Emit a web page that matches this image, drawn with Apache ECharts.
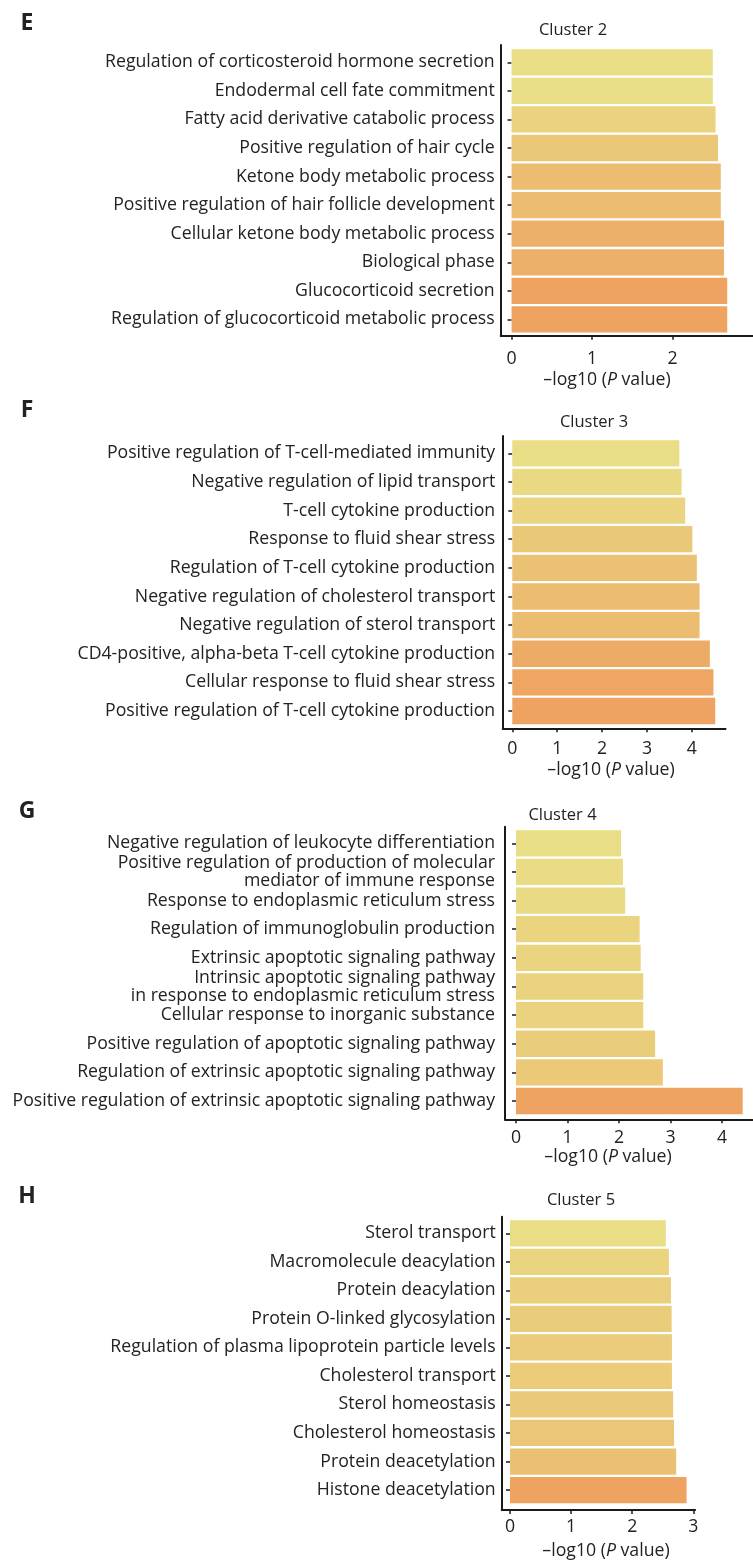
<!DOCTYPE html>
<html>
<head>
<meta charset="utf-8">
<script src="https://cdn.jsdelivr.net/npm/echarts@6/dist/echarts.min.js"></script>
<style>
  html, body { margin: 0; padding: 0; background: #ffffff; }
  #chart { width: 753px; height: 1562px; }
</style>
</head>
<body>
<div id="chart"></div>
<script>
// GO enrichment terms per cluster, listed top to bottom, with -log10(P) values
const cluster2Terms = [
  'Regulation of corticosteroid hormone secretion',
  'Endodermal cell fate commitment',
  'Fatty acid derivative catabolic process',
  'Positive regulation of hair cycle',
  'Ketone body metabolic process',
  'Positive regulation of hair follicle development',
  'Cellular ketone body metabolic process',
  'Biological phase',
  'Glucocorticoid secretion',
  'Regulation of glucocorticoid metabolic process'
];
const cluster2Values = [2.50, 2.50, 2.535, 2.565, 2.60, 2.60, 2.64, 2.64, 2.68, 2.68];
const cluster2Ticks = [0, 1, 2];

const cluster3Terms = [
  'Positive regulation of T-cell-mediated immunity',
  'Negative regulation of lipid transport',
  'T-cell cytokine production',
  'Response to fluid shear stress',
  'Regulation of T-cell cytokine production',
  'Negative regulation of cholesterol transport',
  'Negative regulation of sterol transport',
  'CD4-positive, alpha-beta T-cell cytokine production',
  'Cellular response to fluid shear stress',
  'Positive regulation of T-cell cytokine production'
];
const cluster3Values = [3.72, 3.77, 3.85, 4.01, 4.11, 4.17, 4.17, 4.40, 4.48, 4.52];
const cluster3Ticks = [0, 1, 2, 3, 4];

const cluster4Terms = [
  'Negative regulation of leukocyte differentiation',
  'Positive regulation of production of molecular\nmediator of immune response',
  'Response to endoplasmic reticulum stress',
  'Regulation of immunoglobulin production',
  'Extrinsic apoptotic signaling pathway',
  'Intrinsic apoptotic signaling pathway\nin response to endoplasmic reticulum stress',
  'Cellular response to inorganic substance',
  'Positive regulation of apoptotic signaling pathway',
  'Regulation of extrinsic apoptotic signaling pathway',
  'Positive regulation of extrinsic apoptotic signaling pathway'
];
const cluster4Values = [2.04, 2.075, 2.12, 2.40, 2.42, 2.47, 2.47, 2.70, 2.85, 4.40];
const cluster4Ticks = [0, 1, 2, 3, 4];

const cluster5Terms = [
  'Sterol transport',
  'Macromolecule deacylation',
  'Protein deacylation',
  'Protein O-linked glycosylation',
  'Regulation of plasma lipoprotein particle levels',
  'Cholesterol transport',
  'Sterol homeostasis',
  'Cholesterol homeostasis',
  'Protein deacetylation',
  'Histone deacetylation'
];
const cluster5Values = [2.55, 2.60, 2.635, 2.645, 2.65, 2.65, 2.67, 2.685, 2.72, 2.89];
const cluster5Ticks = [0, 1, 2, 3];

// Panel geometry (pixels) and value-axis scale
const panels = [
  { letter: 'E', title: 'Cluster 2', terms: cluster2Terms, values: cluster2Values, ticks: cluster2Ticks,
    axisX: 500.7, axisTop: 45, axisBottom: 335.7, zeroX: 512.3, unit: 86, max: 3.0,
    barsTop: 48, barsHeight: 285.7, tickMargin: 14, labelMargin: 6, titleX: 607, titleY: 380,
    clusterX: 573, clusterY: 30, letterY: 23 },
  { letter: 'F', title: 'Cluster 3', terms: cluster3Terms, values: cluster3Values, ticks: cluster3Ticks,
    axisX: 502.7, axisTop: 436, axisBottom: 728.3, zeroX: 512.3, unit: 44.9, max: 4.75,
    barsTop: 439, barsHeight: 286.3, tickMargin: 12, labelMargin: 7.5, titleX: 611, titleY: 770,
    clusterX: 594, clusterY: 422, letterY: 410 },
  { letter: 'G', title: 'Cluster 4', terms: cluster4Terms, values: cluster4Values, ticks: cluster4Ticks,
    axisX: 505, axisTop: 826.7, axisBottom: 1119.3, zeroX: 516.7, unit: 54.75, max: 4.6,
    barsTop: 829, barsHeight: 286.3, tickMargin: 10, labelMargin: 10, titleX: 608, titleY: 1156.7,
    clusterX: 562.5, clusterY: 815, letterY: 811 },
  { letter: 'H', title: 'Cluster 5', terms: cluster5Terms, values: cluster5Values, ticks: cluster5Ticks,
    axisX: 501.7, axisTop: 1216.7, axisBottom: 1510, zeroX: 510, unit: 61.1, max: 3.03,
    barsTop: 1219, barsHeight: 285.3, tickMargin: 8, labelMargin: 6, titleX: 606, titleY: 1550.7,
    clusterX: 581, clusterY: 1200, letterY: 1196 }
];

const FONT = "'Open Sans', 'Noto Sans', sans-serif";
const INK = '#222222';
const AXIS_INK = '#1a1a1a';
const LABEL_SIZE = 17.7;
const LOW_COLOR = [233, 221, 133];   // yellow for the weakest term
const HIGH_COLOR = [238, 163, 96];   // orange for the strongest term

function fillFor(v, lo, hi) {
  const t = hi > lo ? (v - lo) / (hi - lo) : 0;
  const c = LOW_COLOR.map((a, k) => Math.round(a + (HIGH_COLOR[k] - a) * t));
  return 'rgb(' + c.join(',') + ')';
}

const grid = [], xAxis = [], yAxis = [], series = [], graphic = [];

panels.forEach((p, i) => {
  const min = -(p.zeroX - p.axisX) / p.unit;
  const width = (p.max - min) * p.unit;
  const lo = Math.min(...p.values), hi = Math.max(...p.values);

  // frame grid: carries the axis lines, x ticks and x tick labels
  grid.push({ left: p.axisX, top: p.axisTop, width: width, height: p.axisBottom - p.axisTop, containLabel: false });
  // bar grid: carries the category axis and the bars
  grid.push({ left: p.axisX, top: p.barsTop, width: width, height: p.barsHeight, containLabel: false });

  const g0 = 2 * i, g1 = 2 * i + 1;

  xAxis.push({
    type: 'value', gridIndex: g0, min: min, max: p.max,
    axisLine: { show: true, onZero: false, lineStyle: { color: AXIS_INK, width: 2 } },
    axisTick: { show: true, customValues: p.ticks, length: 4, lineStyle: { color: AXIS_INK, width: 1.5 } },
    axisLabel: { show: true, customValues: p.ticks, margin: p.tickMargin, fontSize: LABEL_SIZE, color: INK, fontFamily: FONT },
    splitLine: { show: false }
  });
  yAxis.push({
    type: 'value', gridIndex: g0, min: 0, max: 1,
    axisLine: { show: true, onZero: false, lineStyle: { color: AXIS_INK, width: 2 } },
    axisTick: { show: false }, axisLabel: { show: false }, splitLine: { show: false }
  });

  xAxis.push({ type: 'value', gridIndex: g1, min: min, max: p.max, show: false });
  yAxis.push({
    type: 'category', gridIndex: g1, data: p.terms, inverse: true,
    axisLine: { show: false },
    axisTick: { show: true, alignWithLabel: true, length: 4, lineStyle: { color: AXIS_INK, width: 1.5 } },
    axisLabel: { margin: p.labelMargin, fontSize: LABEL_SIZE, lineHeight: 18, color: INK, fontFamily: FONT, interval: 0 },
    splitLine: { show: false }
  });

  series.push({
    type: 'bar', xAxisIndex: g1, yAxisIndex: g1,
    barCategoryGap: '8%',
    data: p.values.map(v => ({ value: v, itemStyle: { color: fillFor(v, lo, hi) } })),
    silent: true
  });

  graphic.push({
    type: 'text', x: 27, y: p.letterY,
    style: { text: p.letter, textAlign: 'center', textVerticalAlign: 'middle',
             font: 'bold 23px ' + FONT, fill: INK }
  });
  graphic.push({
    type: 'text', x: p.clusterX, y: p.clusterY,
    style: { text: p.title, textAlign: 'center', textVerticalAlign: 'middle',
             font: '16.5px ' + FONT, fill: INK }
  });
  graphic.push({
    type: 'text', x: p.titleX, y: p.titleY,
    style: {
      text: '{n|–log10 (}{i|P}{n| value)}',
      textAlign: 'center', textVerticalAlign: 'middle',
      rich: {
        n: { fontSize: LABEL_SIZE, fontFamily: FONT, fill: INK, color: INK },
        i: { fontSize: LABEL_SIZE, fontFamily: FONT, fontStyle: 'italic', fill: INK, color: INK }
      }
    }
  });
});

const chart = echarts.init(document.getElementById('chart'), null, { renderer: 'canvas' });
chart.setOption({
  backgroundColor: '#ffffff',
  animation: false,
  grid: grid,
  xAxis: xAxis,
  yAxis: yAxis,
  series: series,
  graphic: graphic
});
</script>
</body>
</html>
